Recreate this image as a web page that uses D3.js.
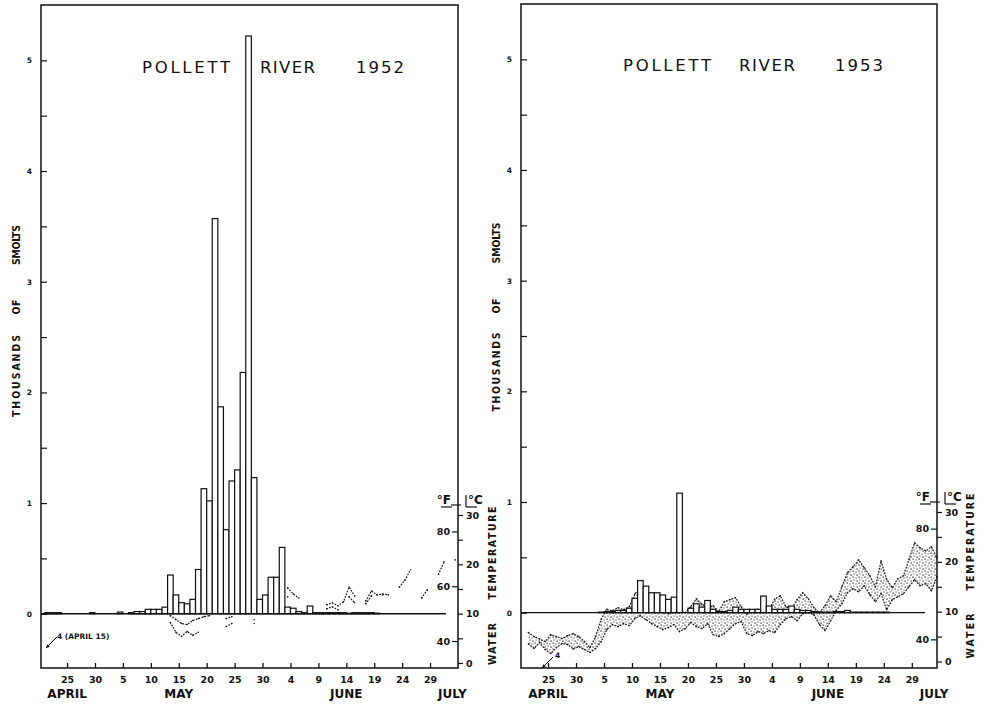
<!DOCTYPE html>
<html>
<head>
<meta charset="utf-8">
<script src="https://cdn.jsdelivr.net/npm/d3@7"></script>
<style>
  body { margin: 0; background: #fff; }
  svg { display: block; }
  text { fill: #111; }
</style>
</head>
<body>
<svg id="chart" width="985" height="705"></svg>
<script>
// ---------------- data ----------------
// Daily smolt counts (thousands), one value per day from the start date.
const smoltStart1952 = "1952-04-21";
const smolts1952 = [
  0.01, 0.01, 0.01, 0, 0, 0, 0, 0, 0.01, 0,            // Apr 21-30
  0, 0, 0, 0.015, 0, 0.01, 0.02, 0.02, 0.04, 0.04,      // May 1-10
  0.04, 0.06, 0.35, 0.17, 0.10, 0.09, 0.13, 0.40, 1.13, 1.02, // May 11-20
  3.57, 1.87, 0.76, 1.20, 1.30, 2.18, 5.22, 1.23, 0.13, 0.17, // May 21-30
  0.33,                                                 // May 31
  0.33, 0.60, 0.06, 0.05, 0.02, 0.01, 0.07, 0.01, 0.01, 0.01, // Jun 1-10
  0.01, 0.01, 0.01, 0.005, 0.01, 0.01, 0.01, 0.01, 0.005      // Jun 11-19
];

const smoltStart1953 = "1953-05-04";
const smolts1953 = [
  0.005, 0.01, 0.01, 0.02, 0.02, 0.04, 0.13,            // May 4-10
  0.29, 0.24, 0.18, 0.18, 0.16, 0.12, 0.14, 1.08, 0, 0.04, // May 11-20
  0.08, 0.05, 0.11, 0.03, 0.01, 0.01, 0.02, 0.05, 0.03, 0.03, // May 21-30
  0.03,                                                 // May 31
  0.03, 0.15, 0.06, 0.03, 0.03, 0.03, 0.06, 0.03, 0.02, 0.02, // Jun 1-10
  0.01, 0.005, 0.005, 0.005, 0.01, 0.01, 0.02, 0.005, 0.005, 0.005, // Jun 11-20
  0.005, 0.005, 0.005, 0.005                            // Jun 21-24
];

// Daily water temperature (degrees C), maximum and minimum; null = not recorded.
const tempStart1952 = "1952-05-13";
const tempMax1952 = [
  9.6, 8.8, 8.0, 7.8, 8.6, 9.0, 9.4, 9.6, null, null,   // May 13-22
  9.0, 9.4, null, null, null, 8.8, null, null, null,    // May 23-31
  null, null, 15.2, 14.0, 13.2, null, null, null, null, 11.8, // Jun 1-10
  12.2, 11.6, 12.4, 15.4, 13.6, null, 12.6, 14.6, 13.8, 14.0, // Jun 11-20
  13.8, null, 15.4, 16.8, 18.9, null, 13.2, 14.8, null, 18.0, // Jun 21-30
  20.5, null, 20.9                                      // Jul 1-3
];
const tempMin1952 = [
  8.2, 6.2, 5.4, 6.4, 5.6, 6.2, null, null, null, null, // May 13-22
  7.4, 8.0, null, null, null, 8.0, null, null, null,    // May 23-31
  null, null, 13.4, null, null, null, null, null, null, 11.0, // Jun 1-10
  11.4, 10.8, null, 13.4, 12.2, null, 12.0, 13.6, null, 13.8, // Jun 11-20
  null, null, null, null, null, null, null, null, null, null, // Jun 21-30
  null, null, null                                      // Jul 1-3
];

const tempStart1953 = "1953-04-21";
const tempMax1953 = [
  5.8, 5.0, 4.5, 4.0, 5.4, 5.0, 4.6, 5.2, 5.6, 5.0,     // Apr 21-30
  4.0, 2.8, 5.0, 8.5, 10.5, 10.2, 10.8, 10.4, 11.0, 13.5, // May 1-10
  15.0, 12.0, 10.2, 10.0, 9.8, 9.6, 10.0, 10.2, 9.8, 11.0, // May 11-20
  12.6, 11.5, 10.8, 11.2, 10.0, 12.0, 12.4, 12.8, 11.0, 9.5, // May 21-30
  10.2,                                                 // May 31
  10.5, 9.8, 10.4, 12.5, 13.2, 11.0, 10.6, 12.4, 13.8, 12.6, // Jun 1-10
  10.8, 9.8, 11.2, 13.2, 12.0, 15.0, 17.8, 19.0, 20.4, 18.8, // Jun 11-20
  17.2, 15.0, 20.2, 16.5, 14.8, 16.6, 17.2, 20.5, 23.8, 22.8, // Jun 21-30
  22.2, 23.0, 20.8                                      // Jul 1-3
];
const tempMin1953 = [
  3.5, 2.6, 3.8, 2.4, 1.6, 2.8, 3.6, 3.4, 2.5, 3.0,     // Apr 21-30
  2.4, 1.8, 2.6, 4.0, 6.4, 7.4, 7.0, 7.6, 7.2, 8.6,     // May 1-10
  9.2, 8.4, 7.6, 7.0, 6.4, 6.8, 7.4, 6.0, 6.6, 7.8,     // May 11-20
  7.0, 6.6, 7.6, 5.4, 5.0, 5.6, 6.6, 7.6, 8.0, 5.6,     // May 21-30
  5.2,                                                  // May 31
  6.0, 5.6, 6.2, 5.8, 7.4, 8.6, 9.0, 8.2, 9.6, 9.8,     // Jun 1-10
  9.4, 7.4, 6.2, 8.2, 10.2, 11.6, 13.8, 14.6, 14.0, 15.2, // Jun 11-20
  13.4, 12.0, 13.6, 10.4, 12.4, 13.0, 13.6, 15.0, 16.4, 15.2, // Jun 21-30
  15.6, 14.2, 17.0                                      // Jul 1-3
];

// Axis ticks and labels
const smoltTicks = [0, 0.5, 1, 1.5, 2, 2.5, 3, 3.5, 4, 4.5, 5];
const dateTicks = ["04-25", "04-30", "05-05", "05-10", "05-15", "05-20", "05-25",
                   "05-30", "06-04", "06-09", "06-14", "06-19", "06-24", "06-29"];
const monthNames = ["APRIL", "MAY", "JUNE", "JULY"];
const monthLabelDates = ["04-25", "05-15", "06-14", "07-03"];
const celsiusTicks = [0, 5, 10, 15, 20, 25, 30];
const celsiusLabels = [0, 10, 20, 30];
const fahrenheitLabels1952 = [40, 60, 80];
const fahrenheitLabels1953 = [40, 80];
const yAxisWords = ["THOUSANDS", "OF", "SMOLTS"];
const tempAxisWords = ["WATER", "TEMPERATURE"];
const titleWords = ["POLLETT", "RIVER"];

// ---------------- drawing ----------------
const svg = d3.select("#chart");
const parse = d3.utcParse("%Y-%m-%d");
const FONT = "'DejaVu Sans', 'Liberation Sans', sans-serif";
const LABEL_FONT = "'DejaVu Sans Condensed', 'DejaVu Sans', sans-serif";

// stippled fill for the daily temperature range
const defs = svg.append("defs");
const pat = defs.append("pattern")
  .attr("id", "stipple").attr("patternUnits", "userSpaceOnUse")
  .attr("width", 6).attr("height", 6);
[[0.5, 0.5, 1.2], [3.5, 1.5, 1], [1.5, 3.5, 1], [4.5, 4.5, 1.2]].forEach(([px, py, s]) =>
  pat.append("rect").attr("x", px).attr("y", py).attr("width", s).attr("height", s).attr("fill", "#1a1a1a"));

function series(start, values) {
  const d0 = parse(start);
  return values.map((v, i) => ({ date: d3.utcDay.offset(d0, i), v }));
}

function drawPanel(cfg) {
  const year = cfg.year;
  const g = svg.append("g");
  const x = d3.scaleUtc().domain([cfg.start, cfg.end]).range([cfg.x0, cfg.x1]);
  const y = d3.scaleLinear().domain(cfg.yDomain).range([cfg.y1, cfg.y0]);
  const tC = d3.scaleLinear().domain([0, 30]).range(cfg.cRange);
  const tF = d3.scaleLinear().domain([32, 86]).range(cfg.cRange);
  const mid = d => d3.utcHour.offset(d, 12);

  // water temperature
  const tMax = series(cfg.tStart, cfg.tMax);
  const tMin = series(cfg.tStart, cfg.tMin);
  const both = tMax.map((d, i) => ({ date: d.date, hi: d.v, lo: tMin[i].v }));
  if (cfg.band) {
    g.append("path")
      .datum(both)
      .attr("fill", "url(#stipple)")
      .attr("d", d3.area()
        .defined(d => d.hi != null && d.lo != null)
        .x(d => x(mid(d.date))).y0(d => tC(d.lo)).y1(d => tC(d.hi)));
  }
  const tLine = d3.line().defined(d => d.v != null)
    .x(d => x(mid(d.date))).y(d => tC(d.v));
  [tMax, tMin].forEach(s => {
    g.append("path").datum(s)
      .attr("fill", "none").attr("stroke", "#1a1a1a")
      .attr("stroke-width", 1.3).attr("stroke-dasharray", "0.6 2.4")
      .attr("stroke-linecap", "round")
      .attr("d", tLine);
    g.append("g").selectAll("circle")
      .data(s.filter(d => d.v != null))
      .join("circle")
      .attr("cx", d => x(mid(d.date))).attr("cy", d => tC(d.v))
      .attr("r", 0.8).attr("fill", "#1a1a1a");
  });

  // smolt bars
  const bars = series(cfg.sStart, cfg.smolts).filter(d => d.v > 0);
  g.append("g").selectAll("rect")
    .data(bars)
    .join("rect")
    .attr("x", d => x(d.date))
    .attr("width", d => x(d3.utcDay.offset(d.date, 1)) - x(d.date))
    .attr("y", d => y(d.v))
    .attr("height", d => y(0) - y(d.v))
    .attr("fill", "#fff").attr("stroke", "#111").attr("stroke-width", 1.2);

  // zero line
  g.append("line")
    .attr("x1", cfg.x0).attr("x2", cfg.x1 - 12)
    .attr("y1", y(0)).attr("y2", y(0))
    .attr("stroke", "#111").attr("stroke-width", 1.3);

  // frame
  g.append("rect")
    .attr("x", cfg.x0).attr("y", cfg.y0)
    .attr("width", cfg.x1 - cfg.x0).attr("height", cfg.y1 - cfg.y0)
    .attr("fill", "none").attr("stroke", "#111").attr("stroke-width", 1.5);

  // smolt axis
  const ya = g.append("g").attr("transform", `translate(${cfg.x0},0)`)
    .call(d3.axisLeft(y).tickValues(smoltTicks)
      .tickSizeInner(-6).tickSizeOuter(0).tickPadding(9)
      .tickFormat(d => Number.isInteger(d) ? d : ""));
  ya.select(".domain").remove();
  ya.selectAll("line").attr("stroke", "#111").attr("stroke-width", 1.2);
  ya.selectAll("text").attr("font-family", FONT).attr("font-weight", "bold").attr("font-size", 7.5);

  // date axis
  const xa = g.append("g").attr("transform", `translate(0,${cfg.y1})`)
    .call(d3.axisBottom(x).tickValues(dateTicks.map(s => parse(`${year}-${s}`)))
      .tickSizeInner(-5).tickSizeOuter(0).tickPadding(8)
      .tickFormat(d3.utcFormat("%-d")));
  xa.select(".domain").remove();
  xa.selectAll("line").attr("stroke", "#111").attr("stroke-width", 1.3);
  xa.selectAll("text").attr("font-family", FONT).attr("font-weight", "bold").attr("font-size", 9.5);

  // month names
  g.append("g").selectAll("text")
    .data(monthNames)
    .join("text")
    .attr("x", (d, i) => x(parse(`${year}-${monthLabelDates[i]}`)))
    .attr("y", 698)
    .attr("text-anchor", "middle")
    .attr("font-family", FONT).attr("font-weight", "bold").attr("font-size", 12)
    .text(d => d);

  // temperature axis (degrees C to the right, degrees F to the left)
  const ca = g.append("g").attr("transform", `translate(${cfg.x1},0)`)
    .call(d3.axisRight(tC).tickValues(celsiusTicks)
      .tickSizeInner(5).tickSizeOuter(0).tickPadding(3)
      .tickFormat(d => celsiusLabels.includes(d) ? d : ""));
  ca.select(".domain").remove();
  ca.selectAll("line").attr("stroke", "#111").attr("stroke-width", 1.2);
  ca.selectAll("text").attr("font-family", FONT).attr("font-weight", "bold").attr("font-size", 9.5);

  const fa = g.append("g").attr("transform", `translate(${cfg.x1},0)`)
    .call(d3.axisLeft(tF).tickValues(cfg.fLabels)
      .tickSizeInner(6).tickSizeOuter(0).tickPadding(2));
  fa.select(".domain").remove();
  fa.selectAll("line").attr("stroke", "#111").attr("stroke-width", 1.2);
  fa.selectAll("text").attr("font-family", FONT).attr("font-weight", "bold").attr("font-size", 9.5);

  // unit header
  const topY = tC(30) - 10;
  g.append("line").attr("x1", cfg.x1 - 7).attr("x2", cfg.x1 + 3)
    .attr("y1", topY).attr("y2", topY).attr("stroke", "#111").attr("stroke-width", 1.2);
  g.append("text").attr("x", cfg.x1 - 7).attr("y", topY - 1)
    .attr("text-anchor", "end")
    .attr("font-family", FONT).attr("font-weight", "bold").attr("font-size", 12)
    .text("°F");
  g.append("line").attr("x1", cfg.x1 - 17).attr("x2", cfg.x1 - 6)
    .attr("y1", topY + 2).attr("y2", topY + 2).attr("stroke", "#111").attr("stroke-width", 1.2);
  g.append("line").attr("x1", cfg.x1 + 8).attr("x2", cfg.x1 + 8)
    .attr("y1", topY - 10).attr("y2", topY + 2).attr("stroke", "#111").attr("stroke-width", 1.2);
  g.append("text").attr("x", cfg.x1 + 10).attr("y", topY - 1)
    .attr("font-family", FONT).attr("font-weight", "bold").attr("font-size", 12)
    .text("°C");
  g.append("line").attr("x1", cfg.x1 + 8).attr("x2", cfg.x1 + 19)
    .attr("y1", topY + 2).attr("y2", topY + 2).attr("stroke", "#111").attr("stroke-width", 1.2);

  // rotated axis titles (letter-spaced to their drawn lengths)
  const vText = (txt, cx, cy, len) => g.append("text")
    .attr("transform", `translate(${cx},${cy}) rotate(-90)`)
    .attr("text-anchor", "middle").attr("dominant-baseline", "central")
    .attr("font-family", LABEL_FONT).attr("font-weight", "bold").attr("font-size", 10.5)
    .attr("textLength", len).attr("lengthAdjust", "spacing")
    .text(txt);
  yAxisWords.forEach((w, i) => vText(w, cfg.yLabelX, cfg.yWordY[i], cfg.yWordLen[i]));
  tempAxisWords.forEach((w, i) => vText(w, cfg.tLabelX, cfg.tWordY[i], cfg.tWordLen[i]));

  // title
  const words = [...titleWords, String(year)];
  words.forEach((w, i) => g.append("text")
    .attr("x", cfg.titleX[i]).attr("y", cfg.titleY)
    .attr("font-family", FONT).attr("font-size", 16.5)
    .attr("textLength", cfg.titleLen[i]).attr("lengthAdjust", "spacing")
    .text(w));

  // off-scale note with arrow
  const n = cfg.note;
  g.append("line").attr("x1", n.ax).attr("y1", n.ay).attr("x2", n.bx).attr("y2", n.by)
    .attr("stroke", "#111").attr("stroke-width", 1);
  const ang = Math.atan2(n.by - n.ay, n.bx - n.ax);
  const ah = 4;
  g.append("path")
    .attr("d", `M${n.bx},${n.by} L${n.bx - ah * Math.cos(ang - 0.45)},${n.by - ah * Math.sin(ang - 0.45)} L${n.bx - ah * Math.cos(ang + 0.45)},${n.by - ah * Math.sin(ang + 0.45)}Z`)
    .attr("fill", "#111");
  g.append("text").attr("x", n.tx).attr("y", n.ty)
    .attr("font-family", FONT).attr("font-weight", "bold").attr("font-size", 7.5)
    .text(n.text);
}

drawPanel({
  year: 1952,
  x0: 41, x1: 458, y0: 5, y1: 668,
  start: Date.UTC(1952, 3, 20, 8), end: Date.UTC(1952, 6, 4, 0),
  yDomain: [-0.49, 5.5], cRange: [663, 515],
  sStart: smoltStart1952, smolts: smolts1952,
  tStart: tempStart1952, tMax: tempMax1952, tMin: tempMin1952, band: false,
  fLabels: fahrenheitLabels1952,
  yLabelX: 16, yWordY: [376, 307, 245], yWordLen: [82, 15, 40],
  tLabelX: 492, tWordY: [644, 553], tWordLen: [42, 93],
  titleX: [142, 260, 356], titleY: 73, titleLen: [88, 55, 48],
  note: { ax: 57, ay: 637, bx: 46, by: 648, tx: 57, ty: 639, text: "4 (APRIL 15)" }
});

drawPanel({
  year: 1953,
  x0: 521, x1: 937, y0: 4, y1: 668,
  start: Date.UTC(1953, 3, 20, 4), end: Date.UTC(1953, 6, 3, 12),
  yDomain: [-0.5, 5.5], cRange: [661.5, 512],
  sStart: smoltStart1953, smolts: smolts1953,
  tStart: tempStart1953, tMax: tempMax1953, tMin: tempMin1953, band: true,
  fLabels: fahrenheitLabels1953,
  yLabelX: 496, yWordY: [372, 306, 243], yWordLen: [79, 15, 41],
  tLabelX: 970, tWordY: [636, 542], tWordLen: [45, 97],
  titleX: [623, 739, 835], titleY: 71, titleLen: [88, 56, 48],
  note: { ax: 553, ay: 657, bx: 542, by: 668, tx: 555, ty: 658, text: "4" }
});
</script>
</body>
</html>
